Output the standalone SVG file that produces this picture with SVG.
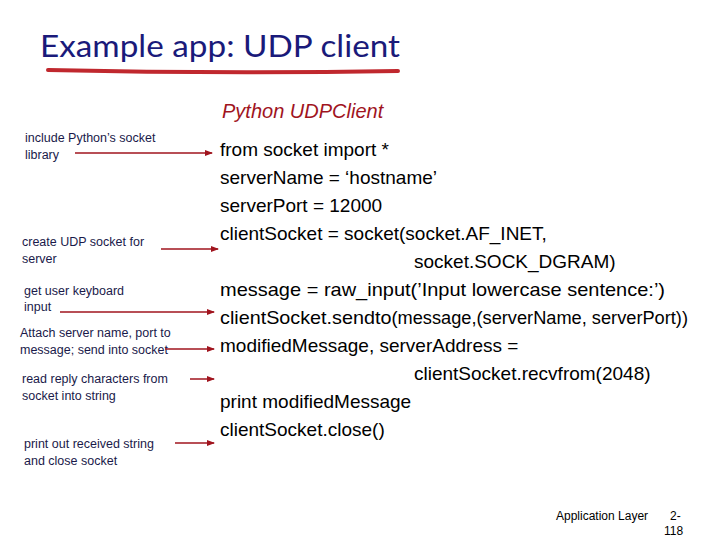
<svg xmlns="http://www.w3.org/2000/svg" width="720" height="540" viewBox="0 0 720 540">
<style>
.note{font-family:"Liberation Sans",Arial,sans-serif;font-size:12.5px;fill:#1a1a4a}
.code{font-family:"Liberation Sans",Arial,sans-serif;font-size:19px;fill:#000}
.sm{font-size:17.5px}
.arr{stroke:#a0141e;stroke-width:1.5;fill:none;marker-end:url(#ah)}
</style>
<defs><marker id="ah" markerWidth="8" markerHeight="6" refX="7" refY="3" orient="auto" markerUnits="userSpaceOnUse"><path d="M0,0L8,3L0,6z" fill="#a0141e"/></marker></defs>
<rect width="720" height="540" fill="#fff"/>
<g id="title">
<text x="40" y="57" font-family="Lato,'Open Sans',sans-serif" font-size="31" fill="#1a1a7a" textLength="360" lengthAdjust="spacingAndGlyphs">Example app: UDP client</text>
<path d="M48,70 Q220,74 398,71" stroke="#c0282e" stroke-width="4" fill="none" stroke-linecap="round"/>
</g>
<g id="heading"><text x="222" y="118" font-family="'Liberation Sans',Arial,sans-serif" font-size="20" font-style="italic" fill="#a0141e">Python UDPClient</text></g>
<g id="code">
<text class="code" x="220" y="156">from socket import *</text>
<text class="code" x="220" y="184">serverName = ‘hostname’</text>
<text class="code" x="220" y="212">serverPort = 12000</text>
<text class="code" x="220" y="240">clientSocket = socket(socket.AF_INET,</text>
<text class="code" x="414" y="268">socket.SOCK_DGRAM)</text>
<text class="code" x="220" y="296" textLength="445" lengthAdjust="spacingAndGlyphs">message = raw_input(’Input lowercase sentence:’)</text>
<text class="code" x="220" y="324" textLength="468" lengthAdjust="spacingAndGlyphs">clientSocket.sendto<tspan class="sm">(message,(serverName, serverPort))</tspan></text>
<text class="code" x="220" y="352">modifiedMessage, serverAddress =</text>
<text class="code" x="414" y="380">clientSocket.recvfrom(2048)</text>
<text class="code" x="220" y="408">print modifiedMessage</text>
<text class="code" x="220" y="436">clientSocket.close()</text>
</g>
<g id="n1"><text class="note" x="25" y="142">include Python’s socket</text><text class="note" x="25" y="159">library</text></g>
<g id="n2"><text class="note" x="22" y="246">create UDP socket for</text><text class="note" x="22" y="263">server</text></g>
<g id="n3"><text class="note" x="24" y="295">get user keyboard</text><text class="note" x="24" y="311">input</text></g>
<g id="n4"><text class="note" x="20" y="337">Attach server name, port to</text><text class="note" x="20" y="354">message; send into socket</text></g>
<g id="n5"><text class="note" x="22" y="383">read reply characters from</text><text class="note" x="22" y="400">socket into string</text></g>
<g id="n6"><text class="note" x="24" y="448">print out received string</text><text class="note" x="24" y="465">and close socket</text></g>
<g id="connectors">
<line class="arr" x1="75" y1="153" x2="212" y2="153"/>
<line class="arr" x1="161" y1="249" x2="218" y2="249"/>
<line class="arr" x1="60" y1="312" x2="214" y2="312"/>
<line class="arr" x1="165" y1="349" x2="214" y2="349"/>
<line class="arr" x1="190" y1="379" x2="214" y2="379"/>
<line class="arr" x1="175" y1="443" x2="214" y2="443"/>
</g>
<g id="footer">
<text x="556" y="520" font-family="'Liberation Sans',Arial,sans-serif" font-size="12" fill="#000">Application Layer</text>
<text x="670" y="520" font-family="'Liberation Sans',Arial,sans-serif" font-size="12" fill="#000">2-</text>
<text x="664" y="535" font-family="'Liberation Sans',Arial,sans-serif" font-size="12" fill="#000">118</text>
</g>
</svg>
